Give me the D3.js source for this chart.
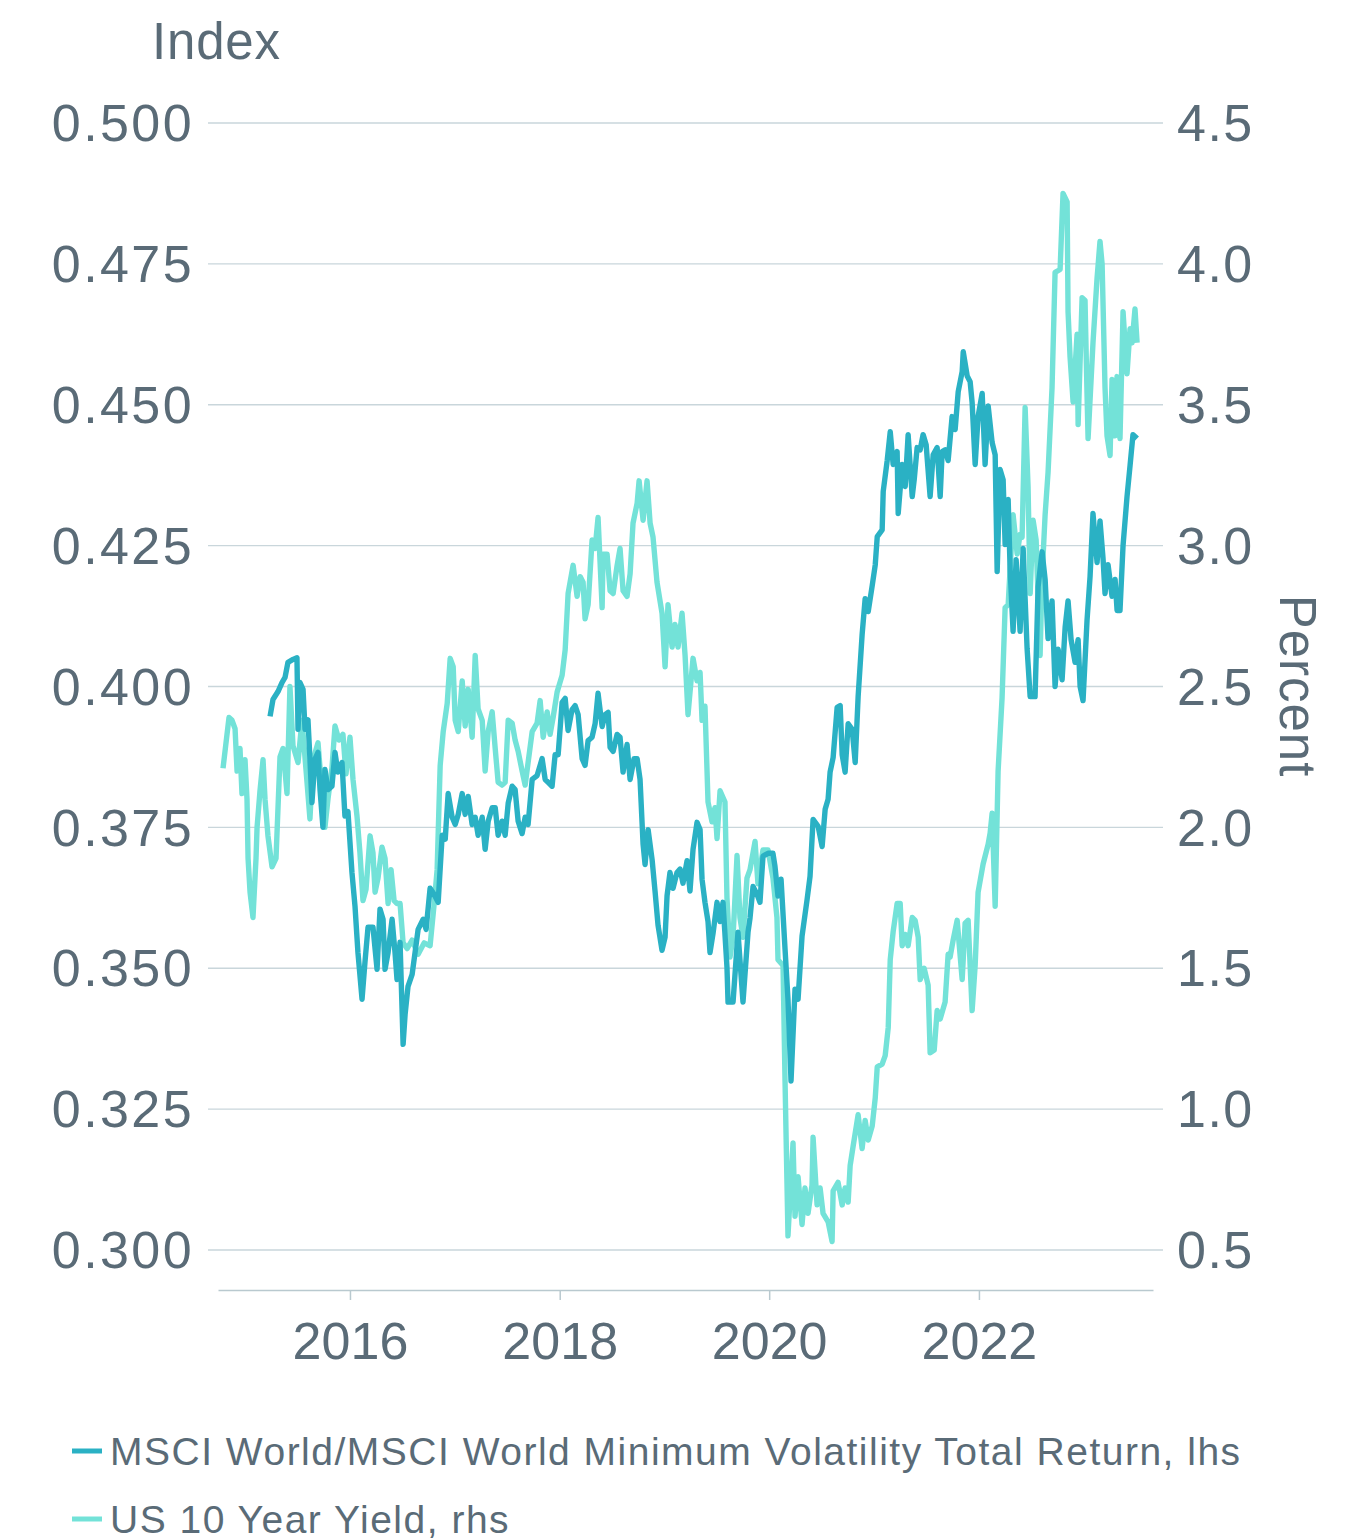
<!DOCTYPE html>
<html lang="en">

<head>
    <meta charset="UTF-8">
    <title>MSCI World vs US 10 Year Yield</title>
    <script src="https://cdnjs.cloudflare.com/ajax/libs/d3/7.8.5/d3.min.js"></script>
    <style>
        body {
            margin: 0;
            background: #fff;
            font-family: "Liberation Sans", Arial, sans-serif;
        }

        .chart text {
            fill: #5a6b77;
        }

        .grid line {
            stroke: #c9d6db;
            stroke-width: 1.3px;
        }
    </style>
</head>

<body>
    <svg class="chart" width="1358" height="1540"></svg>
    <script>
        // tick values
        var leftTicks = [0.300, 0.325, 0.350, 0.375, 0.400, 0.425, 0.450, 0.475, 0.500];
        var rightTicks = [0.5, 1.0, 1.5, 2.0, 2.5, 3.0, 3.5, 4.0, 4.5];
        var yearTicks = [2016, 2018, 2020, 2022];

        // series names
        var seriesNames = ["MSCI World/MSCI World Minimum Volatility Total Return, lhs", "US 10 Year Yield, rhs"];

        // MSCI World / Min Vol ratio (decimal year, index)
        var indexYears = [2015.237, 2015.265, 2015.313, 2015.351, 2015.380, 2015.408, 2015.456, 2015.494, 2015.504, 2015.523, 2015.552, 2015.571, 2015.599, 2015.618, 2015.637, 2015.666, 2015.695, 2015.714, 2015.742, 2015.761, 2015.790, 2015.828, 2015.857, 2015.885, 2015.924, 2015.952, 2015.981,
            2016.019, 2016.048, 2016.076, 2016.115, 2016.143, 2016.172, 2016.219, 2016.258, 2016.286, 2016.315, 2016.334, 2016.363, 2016.401, 2016.429, 2016.448, 2016.477, 2016.506, 2016.525, 2016.553, 2016.592, 2016.620, 2016.649, 2016.697, 2016.725, 2016.763, 2016.802, 2016.840, 2016.878, 2016.907, 2016.935, 2016.973,
            2017.002, 2017.031, 2017.069, 2017.097, 2017.126, 2017.164, 2017.193, 2017.221, 2017.260, 2017.288, 2017.317, 2017.355, 2017.384, 2017.412, 2017.450, 2017.479, 2017.508, 2017.546, 2017.574, 2017.603, 2017.641, 2017.670, 2017.698, 2017.737, 2017.784, 2017.832, 2017.861, 2017.889, 2017.927, 2017.956, 2017.985,
            2018.023, 2018.052, 2018.080, 2018.118, 2018.147, 2018.176, 2018.214, 2018.242, 2018.271, 2018.309, 2018.338, 2018.366, 2018.405, 2018.433, 2018.462, 2018.481, 2018.510, 2018.548, 2018.576, 2018.605, 2018.643, 2018.672, 2018.710, 2018.739, 2018.767, 2018.796, 2018.815, 2018.844, 2018.882, 2018.910, 2018.939, 2018.977,
            2019.006, 2019.025, 2019.053, 2019.082, 2019.120, 2019.149, 2019.177, 2019.216, 2019.244, 2019.273, 2019.311, 2019.340, 2019.359, 2019.387, 2019.416, 2019.435, 2019.464, 2019.502, 2019.531, 2019.559, 2019.597, 2019.607, 2019.655, 2019.702, 2019.750, 2019.798, 2019.817, 2019.846, 2019.884, 2019.912, 2019.941, 2019.989,
            2020.036, 2020.055, 2020.084, 2020.113, 2020.151, 2020.179, 2020.208, 2020.246, 2020.275, 2020.313, 2020.361, 2020.389, 2020.418, 2020.466, 2020.504, 2020.533, 2020.561, 2020.580, 2020.609, 2020.647, 2020.676, 2020.695, 2020.723, 2020.752, 2020.790, 2020.819, 2020.847, 2020.885, 2020.914, 2020.943, 2020.981,
            2021.010, 2021.029, 2021.076, 2021.086, 2021.124, 2021.153, 2021.181, 2021.219, 2021.229, 2021.267, 2021.296, 2021.324, 2021.363, 2021.382, 2021.410, 2021.439, 2021.467, 2021.496, 2021.534, 2021.563, 2021.601, 2021.630, 2021.649, 2021.677, 2021.706, 2021.744, 2021.773, 2021.802, 2021.840, 2021.850, 2021.888, 2021.916, 2021.935, 2021.964, 2021.992,
            2022.031, 2022.059, 2022.088, 2022.126, 2022.155, 2022.174, 2022.202, 2022.231, 2022.250, 2022.279, 2022.298, 2022.326, 2022.355, 2022.393, 2022.422, 2022.460, 2022.489, 2022.536, 2022.565, 2022.603, 2022.632, 2022.660, 2022.698, 2022.727, 2022.756, 2022.794, 2022.823, 2022.851, 2022.880, 2022.918, 2022.947, 2022.966, 2022.994,
            2023.032, 2023.061, 2023.089, 2023.128, 2023.156, 2023.185, 2023.204, 2023.233, 2023.271, 2023.300, 2023.319, 2023.347, 2023.376, 2023.414, 2023.443, 2023.471, 2023.510];
        var indexValues = [0.3947, 0.3977, 0.3991, 0.4007, 0.4016, 0.4043, 0.4048, 0.4051, 0.3924, 0.4007, 0.3995, 0.3924, 0.3941, 0.3871, 0.3794, 0.3871, 0.3883, 0.3817, 0.3750, 0.3853, 0.3817, 0.3823, 0.3883, 0.3848, 0.3865, 0.3770, 0.3778,
            0.3670, 0.3610, 0.3528, 0.3445, 0.3511, 0.3573, 0.3573, 0.3498, 0.3605, 0.3587, 0.3498, 0.3528, 0.3587, 0.3528, 0.3480, 0.3546, 0.3365, 0.3418, 0.3468, 0.3489, 0.3528, 0.3569, 0.3587, 0.3569, 0.3642, 0.3631, 0.3617, 0.3736, 0.3729, 0.3810, 0.3768,
            0.3755, 0.3773, 0.3810, 0.3773, 0.3805, 0.3755, 0.3768, 0.3736, 0.3768, 0.3711, 0.3761, 0.3785, 0.3785, 0.3736, 0.3761, 0.3736, 0.3793, 0.3823, 0.3817, 0.3761, 0.3739, 0.3768, 0.3755, 0.3835, 0.3842, 0.3872, 0.3835, 0.3830, 0.3823, 0.3879, 0.3879,
            0.3972, 0.3979, 0.3922, 0.3959, 0.3966, 0.3950, 0.3872, 0.3860, 0.3904, 0.3910, 0.3934, 0.3988, 0.3929, 0.3950, 0.3954, 0.3892, 0.3885, 0.3915, 0.3910, 0.3848, 0.3897, 0.3835, 0.3872, 0.3872, 0.3835, 0.3720, 0.3684, 0.3746, 0.3693, 0.3637, 0.3576, 0.3532,
            0.3555, 0.3629, 0.3670, 0.3642, 0.3670, 0.3676, 0.3651, 0.3691, 0.3637, 0.3711, 0.3759, 0.3746, 0.3658, 0.3617, 0.3583, 0.3528, 0.3562, 0.3617, 0.3583, 0.3617, 0.3502, 0.3440, 0.3440, 0.3564, 0.3440, 0.3564, 0.3589, 0.3645, 0.3631, 0.3617, 0.3699, 0.3704,
            0.3704, 0.3681, 0.3628, 0.3658, 0.3534, 0.3445, 0.3300, 0.3463, 0.3445, 0.3557, 0.3622, 0.3663, 0.3764, 0.3752, 0.3716, 0.3782, 0.3800, 0.3848, 0.3874, 0.3963, 0.3966, 0.3879, 0.3848, 0.3934, 0.3924, 0.3865, 0.3982, 0.4092, 0.4156, 0.4133, 0.4179,
            0.4216, 0.4266, 0.4278, 0.4346, 0.4401, 0.4452, 0.4394, 0.4417, 0.4307, 0.4394, 0.4355, 0.4447, 0.4337, 0.4367, 0.4424, 0.4420, 0.4447, 0.4429, 0.4337, 0.4411, 0.4424, 0.4337, 0.4417, 0.4420, 0.4401, 0.4479, 0.4456, 0.4523, 0.4559, 0.4594, 0.4551, 0.4541, 0.4504, 0.4394, 0.4479,
            0.4520, 0.4394, 0.4498, 0.4433, 0.4411, 0.4204, 0.4385, 0.4367, 0.4252, 0.4332, 0.4207, 0.4098, 0.4225, 0.4098, 0.4245, 0.4067, 0.3982, 0.3982, 0.4177, 0.4239, 0.4190, 0.4085, 0.4152, 0.4000, 0.4066, 0.4012, 0.4105, 0.4152, 0.4083, 0.4043, 0.4083, 0.4000, 0.3975,
            0.4117, 0.4195, 0.4307, 0.4220, 0.4294, 0.4227, 0.4165, 0.4216, 0.4160, 0.4190, 0.4135, 0.4135, 0.4250, 0.4337, 0.4392, 0.4447, 0.4440];

        // US 10 year yield (decimal year, percent)
        var yieldYears = [2014.788, 2014.845, 2014.874, 2014.903, 2014.922, 2014.950, 2014.969, 2014.998, 2015.017, 2015.027, 2015.046, 2015.074, 2015.103, 2015.113, 2015.141, 2015.170, 2015.189, 2015.217, 2015.256, 2015.294, 2015.332, 2015.361, 2015.399, 2015.427, 2015.456, 2015.504, 2015.542, 2015.590, 2015.618, 2015.647, 2015.695, 2015.723, 2015.761, 2015.790, 2015.828, 2015.857, 2015.895, 2015.933, 2015.962,
            2016.000, 2016.029, 2016.067, 2016.095, 2016.124, 2016.153, 2016.191, 2016.219, 2016.239, 2016.267, 2016.305, 2016.334, 2016.363, 2016.391, 2016.420, 2016.448, 2016.477, 2016.506, 2016.544, 2016.592, 2016.649, 2016.706, 2016.763, 2016.802, 2016.830, 2016.859, 2016.888, 2016.926, 2016.954, 2016.983,
            2017.002, 2017.031, 2017.069, 2017.097, 2017.126, 2017.164, 2017.193, 2017.221, 2017.260, 2017.288, 2017.317, 2017.355, 2017.384, 2017.412, 2017.450, 2017.479, 2017.508, 2017.546, 2017.574, 2017.603, 2017.641, 2017.670, 2017.698, 2017.737, 2017.784, 2017.813, 2017.842, 2017.880, 2017.908, 2017.937, 2017.975,
            2018.023, 2018.052, 2018.080, 2018.128, 2018.166, 2018.195, 2018.223, 2018.242, 2018.271, 2018.309, 2018.338, 2018.366, 2018.405, 2018.414, 2018.452, 2018.481, 2018.510, 2018.548, 2018.576, 2018.605, 2018.643, 2018.672, 2018.700, 2018.739, 2018.758, 2018.796, 2018.834, 2018.863, 2018.891, 2018.929, 2018.977,
            2019.006, 2019.034, 2019.073, 2019.101, 2019.130, 2019.168, 2019.197, 2019.225, 2019.273, 2019.311, 2019.340, 2019.359, 2019.387, 2019.416, 2019.454, 2019.483, 2019.502, 2019.531, 2019.578, 2019.597, 2019.626, 2019.655, 2019.693, 2019.721, 2019.750, 2019.788, 2019.817, 2019.865, 2019.893, 2019.941, 2019.989,
            2020.036, 2020.074, 2020.084, 2020.132, 2020.151, 2020.179, 2020.227, 2020.246, 2020.275, 2020.313, 2020.341, 2020.370, 2020.408, 2020.418, 2020.456, 2020.485, 2020.513, 2020.561, 2020.599, 2020.609, 2020.656, 2020.695, 2020.723, 2020.752, 2020.771, 2020.800, 2020.847, 2020.885, 2020.914, 2020.943, 2020.981,
            2021.010, 2021.029, 2021.076, 2021.105, 2021.134, 2021.153, 2021.181, 2021.219, 2021.248, 2021.267, 2021.296, 2021.324, 2021.363, 2021.391, 2021.420, 2021.439, 2021.477, 2021.515, 2021.534, 2021.573, 2021.601, 2021.630, 2021.677, 2021.706, 2021.725, 2021.754, 2021.792, 2021.840, 2021.868, 2021.897, 2021.935, 2021.964, 2021.992,
            2022.040, 2022.088, 2022.107, 2022.126, 2022.155, 2022.183, 2022.221, 2022.250, 2022.279, 2022.326, 2022.365, 2022.393, 2022.412, 2022.441, 2022.469, 2022.489, 2022.517, 2022.546, 2022.584, 2022.603, 2022.632, 2022.660, 2022.698, 2022.727, 2022.775, 2022.803, 2022.842, 2022.851, 2022.870, 2022.899, 2022.937, 2022.947, 2022.985,
            2023.013, 2023.032, 2023.042, 2023.089, 2023.128, 2023.156, 2023.176, 2023.204, 2023.223, 2023.252, 2023.271, 2023.300, 2023.319, 2023.347, 2023.376, 2023.414, 2023.443, 2023.462, 2023.490, 2023.510];
        var yieldValues = [2.21, 2.39, 2.38, 2.35, 2.20, 2.28, 2.12, 2.24, 2.10, 1.89, 1.77, 1.68, 1.89, 2.00, 2.13, 2.24, 2.10, 1.97, 1.86, 1.89, 2.25, 2.28, 2.12, 2.50, 2.29, 2.23, 2.38, 2.16, 2.03, 2.24, 2.30, 2.17, 2.00, 2.10, 2.21, 2.36, 2.31, 2.33, 2.19,
            2.32, 2.17, 2.04, 1.91, 1.74, 1.78, 1.97, 1.91, 1.77, 1.82, 1.93, 1.89, 1.73, 1.85, 1.74, 1.73, 1.73, 1.59, 1.57, 1.60, 1.55, 1.59, 1.58, 1.73, 1.85, 2.22, 2.34, 2.44, 2.60, 2.57,
            2.38, 2.34, 2.52, 2.36, 2.49, 2.32, 2.61, 2.42, 2.38, 2.20, 2.34, 2.41, 2.28, 2.16, 2.15, 2.16, 2.38, 2.37, 2.31, 2.27, 2.20, 2.15, 2.23, 2.34, 2.37, 2.45, 2.32, 2.41, 2.33, 2.39, 2.48,
            2.54, 2.63, 2.83, 2.93, 2.82, 2.89, 2.87, 2.74, 2.79, 3.02, 2.99, 3.10, 2.78, 2.97, 2.97, 2.84, 2.83, 2.93, 2.99, 2.84, 2.82, 2.90, 3.08, 3.15, 3.23, 3.09, 3.23, 3.08, 3.03, 2.87, 2.76,
            2.57, 2.79, 2.64, 2.72, 2.64, 2.76, 2.61, 2.40, 2.60, 2.52, 2.55, 2.38, 2.43, 2.09, 2.02, 2.07, 1.96, 2.13, 2.09, 1.75, 1.54, 1.61, 1.90, 1.68, 1.61, 1.82, 1.85, 1.95, 1.80, 1.92, 1.92,
            1.82, 1.68, 1.53, 1.51, 1.10, 0.55, 0.88, 0.62, 0.76, 0.59, 0.72, 0.63, 0.73, 0.90, 0.66, 0.72, 0.63, 0.60, 0.53, 0.71, 0.74, 0.66, 0.72, 0.67, 0.80, 0.87, 0.98, 0.86, 0.96, 0.89, 0.94,
            1.04, 1.15, 1.16, 1.19, 1.29, 1.53, 1.63, 1.73, 1.73, 1.58, 1.62, 1.58, 1.68, 1.67, 1.61, 1.46, 1.50, 1.44, 1.20, 1.21, 1.35, 1.32, 1.38, 1.55, 1.54, 1.60, 1.67, 1.46, 1.66, 1.67, 1.35, 1.51, 1.77,
            1.87, 1.94, 1.98, 2.05, 1.72, 2.20, 2.46, 2.78, 2.79, 3.11, 2.97, 3.04, 3.03, 3.49, 3.21, 2.83, 3.09, 3.02, 2.61, 2.89, 3.11, 3.26, 3.56, 3.97, 3.98, 4.25, 4.22, 3.83, 3.67, 3.51, 3.75, 3.43, 3.88,
            3.87, 3.54, 3.38, 3.72, 3.95, 4.08, 4.00, 3.56, 3.39, 3.32, 3.59, 3.39, 3.60, 3.38, 3.83, 3.61, 3.77, 3.72, 3.84, 3.72];

        var indexColor = "#2ab1c4";
        var yieldColor = "#73e2d8";

        // decimal year -> Date
        function toDate(t) {
            var yr = Math.floor(t);
            var start = new Date(yr, 0, 1);
            var end = new Date(yr + 1, 0, 1);
            return new Date(start.getTime() + (t - yr) * (end - start));
        }

        var indexData = indexYears.map(function(t, i) {
            return { date: toDate(t), value: indexValues[i] };
        });
        var yieldData = yieldYears.map(function(t, i) {
            return { date: toDate(t), value: yieldValues[i] };
        });

        var plot = { left: 218, right: 1153, top: 123, bottom: 1250, axisY: 1290 };

        var x = d3.scaleTime()
            .domain([toDate(2014.74), toDate(2023.662)])
            .range([plot.left, plot.right]);

        var yLeft = d3.scaleLinear().domain([0.3, 0.5]).range([plot.bottom, plot.top]);
        var yRight = d3.scaleLinear().domain([0.5, 4.5]).range([plot.bottom, plot.top]);

        var svg = d3.select("svg");

        // gridlines
        svg.append("g").
        attr("class", "grid").
        selectAll("line").
        data(leftTicks).
        enter().append("line").
        attr("x1", plot.left - 10).
        attr("x2", plot.right + 10).
        attr("y1", function(d) { return yLeft(d); }).
        attr("y2", function(d) { return yLeft(d); });

        // left axis labels
        svg.append("g").
        selectAll("text").
        data(leftTicks).
        enter().append("text").
        attr("x", 194).
        attr("y", function(d) { return yLeft(d); }).
        attr("dy", "0.35em").
        attr("text-anchor", "end").
        style("font-size", "52px").
        style("letter-spacing", "2.4px").
        text(function(d) { return d3.format(".3f")(d); });

        // right axis labels
        svg.append("g").
        selectAll("text").
        data(rightTicks).
        enter().append("text").
        attr("x", 1177).
        attr("y", function(d) { return yRight(d); }).
        attr("dy", "0.35em").
        attr("text-anchor", "start").
        style("font-size", "52px").
        style("letter-spacing", "1.5px").
        text(function(d) { return d3.format(".1f")(d); });

        // x axis
        var xAxis = d3.axisBottom(x)
            .tickValues(yearTicks.map(function(y) { return new Date(y, 0, 1); }))
            .tickFormat(d3.timeFormat("%Y"))
            .tickSizeInner(10)
            .tickSizeOuter(0)
            .tickPadding(22);

        var gx = svg.append("g").
        attr("transform", "translate(0," + plot.axisY + ")").
        call(xAxis);
        gx.select(".domain").attr("stroke", "#b9c9cf").attr("stroke-width", 1.5);
        gx.selectAll(".tick line").attr("stroke", "#b9c9cf").attr("stroke-width", 1.5);
        gx.selectAll(".tick text").
        attr("fill", "#5a6b77").
        style("font-family", "'Liberation Sans', Arial, sans-serif").
        style("font-size", "52px").
        attr("dy", "0.71em");

        // axis titles
        svg.append("text").
        attr("x", 152).
        attr("y", 59).
        style("font-size", "51px").
        style("letter-spacing", "0.8px").
        text("Index");

        svg.append("text").
        attr("transform", "translate(1280,686) rotate(90)").
        attr("text-anchor", "middle").
        style("font-size", "51px").
        style("letter-spacing", "1px").
        text("Percent");

        // lines
        var lineIndex = d3.line()
            .x(function(d) { return x(d.date); })
            .y(function(d) { return yLeft(d.value); });
        var lineYield = d3.line()
            .x(function(d) { return x(d.date); })
            .y(function(d) { return yRight(d.value); });

        svg.append("path").
        datum(yieldData).
        attr("fill", "none").
        attr("stroke", yieldColor).
        attr("stroke-width", 5.4).
        attr("stroke-linejoin", "round").
        attr("d", lineYield);

        svg.append("path").
        datum(indexData).
        attr("fill", "none").
        attr("stroke", indexColor).
        attr("stroke-width", 5.4).
        attr("stroke-linejoin", "round").
        attr("d", lineIndex);

        // legend
        var legend = svg.selectAll(".legend").
        data(seriesNames).
        enter().append("g").
        attr("class", "legend").
        attr("transform", function(d, i) {
            return "translate(72," + (1451 + i * 68) + ")";
        });

        legend.append("line").
        attr("x1", 0).
        attr("x2", 30).
        attr("stroke", function(d, i) { return i === 0 ? indexColor : yieldColor; }).
        attr("stroke-width", 5);

        legend.append("text").
        attr("x", 38).
        attr("y", 14).
        style("font-size", "39px").
        style("letter-spacing", "1.5px").
        text(function(d) { return d; });
    </script>
</body>

</html>
